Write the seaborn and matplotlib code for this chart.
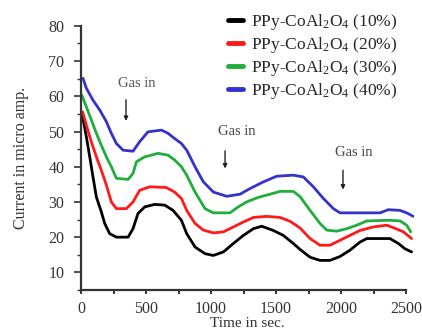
import numpy as np
import pandas as pd
import matplotlib
matplotlib.use("Agg")
import matplotlib.pyplot as plt
import seaborn as sns

# Sensor response: current (micro amp) versus time (s) for four loadings
labels = ["PPy-CoAl$_\\mathregular{2}$O$_\\mathregular{4}$ (10%)",
          "PPy-CoAl$_\\mathregular{2}$O$_\\mathregular{4}$ (20%)",
          "PPy-CoAl$_\\mathregular{2}$O$_\\mathregular{4}$ (30%)",
          "PPy-CoAl$_\\mathregular{2}$O$_\\mathregular{4}$ (40%)"]
colors = ["#000000", "#ff1a1a", "#1fae3c", "#3333cc"]

t10 = [10, 15, 41, 67, 92, 118, 156, 182, 220, 272, 362, 400, 438, 490, 567, 644,
       708, 772, 813, 877, 954, 1018, 1095, 1172, 1249, 1326, 1390, 1479, 1556, 1633,
       1685, 1762, 1838, 1915, 1992, 2069, 2146, 2198, 2377, 2441, 2492, 2543]
i10 = [54.5, 53.7, 48.5, 42.8, 37.1, 31.4, 27.2, 23.9, 21.0, 20.0, 20.0, 22.4, 26.7,
       28.6, 29.3, 29.1, 27.6, 24.8, 21.0, 17.2, 15.3, 14.8, 15.8, 18.2, 20.5, 22.4,
       23.1, 21.9, 20.5, 18.2, 16.5, 14.3, 13.4, 13.4, 14.5, 16.3, 18.6, 19.6, 19.6,
       18.2, 16.7, 15.8]

t20 = [12, 41, 79, 118, 156, 195, 233, 272, 349, 400, 451, 528, 656, 720, 772, 813,
       877, 941, 1018, 1095, 1172, 1249, 1326, 1428, 1531, 1608, 1685, 1762, 1838,
       1915, 1992, 2069, 2146, 2249, 2351, 2403, 2480, 2543]
i20 = [55.6, 51.8, 47.1, 42.8, 39.0, 34.8, 30.0, 28.1, 28.1, 30.0, 33.3, 34.3, 34.1,
       32.8, 31.0, 27.6, 23.9, 22.0, 21.2, 21.5, 22.9, 24.3, 25.6, 25.9, 25.6, 24.5,
       22.6, 19.6, 17.7, 17.7, 19.1, 20.5, 21.9, 22.9, 23.4, 22.7, 21.5, 19.6]

t30 = [5, 41, 79, 118, 156, 195, 233, 272, 362, 400, 426, 490, 592, 669, 720, 772,
       813, 877, 954, 1018, 1146, 1210, 1274, 1364, 1454, 1531, 1633, 1685, 1762, 1838,
       1890, 1967, 2044, 2121, 2198, 2377, 2454, 2505, 2536]
i30 = [60.4, 57.0, 53.3, 49.5, 46.1, 42.8, 40.0, 36.7, 36.4, 38.1, 41.4, 42.8, 43.8,
       43.3, 41.9, 40.0, 37.6, 32.8, 28.1, 26.9, 26.9, 28.6, 30.0, 31.3, 32.2, 33.0,
       33.0, 31.5, 27.6, 23.9, 22.0, 21.7, 22.4, 23.4, 24.6, 24.8, 24.6, 23.4, 21.5]

t40 = [15, 41, 92, 144, 195, 233, 272, 323, 400, 451, 515, 618, 669, 720, 772, 813,
       877, 941, 1018, 1121, 1223, 1300, 1403, 1505, 1633, 1710, 1787, 1864, 1941,
       1992, 2300, 2364, 2454, 2505, 2556]
i40 = [65.1, 62.3, 58.9, 56.1, 52.8, 49.5, 46.6, 44.7, 44.4, 47.1, 49.9, 50.4, 49.5,
       48.0, 46.6, 44.7, 40.0, 35.7, 32.8, 31.6, 32.2, 33.8, 35.7, 37.3, 37.6, 37.1,
       34.3, 31.0, 28.1, 26.9, 26.9, 27.8, 27.6, 26.9, 25.9]

gas_label = "Gas in"
gas_text_x = [285, 1054, 1954]
gas_text_y = [63.5, 50.1, 44.1]
gas_x = [346, 1108, 2015]
gas_top = [59, 44.5, 39]
gas_bottom = [53, 39.5, 33.5]

xticks = [0, 500, 1000, 1500, 2000, 2500]
yticks = [10, 20, 30, 40, 50, 60, 70, 80]

frames = []
for lab, t, i in zip(labels, [t10, t20, t30, t40], [i10, i20, i30, i40]):
    frames.append(pd.DataFrame({"time": t, "current": i, "sample": lab}))
df = pd.concat(frames, ignore_index=True)

sns.set_theme(style="white")
plt.rcParams["font.family"] = ["Liberation Serif", "DejaVu Serif"]
plt.rcParams["mathtext.fontset"] = "custom"
plt.rcParams["mathtext.rm"] = "Liberation Serif"
plt.rcParams["mathtext.it"] = "Liberation Serif:italic"

fig = plt.figure(figsize=(4.22, 3.36), dpi=100)
ax = fig.add_axes([0.192, 0.137, 0.7886, 0.786])

sns.lineplot(data=df, x="time", y="current", hue="sample", palette=colors,
             sort=False, estimator=None, linewidth=2.0, ax=ax, legend=False)
for line in ax.get_lines():
    line.set_solid_joinstyle("round")

ax.set_xlim(0, 2560)
ax.set_ylim(5, 80)
ax.set_xticks(xticks)
ax.set_xticks(np.arange(250, 2501, 500), minor=True)
ax.set_yticks(yticks)
ax.set_yticks(np.arange(5, 80, 10), minor=True)

for side in ["top", "right"]:
    ax.spines[side].set_visible(False)
for side in ["left", "bottom"]:
    ax.spines[side].set_color("#333333")
    ax.spines[side].set_linewidth(1.6)
ax.spines["bottom"].set_bounds(0, 2500)

ax.tick_params(axis="y", which="major", direction="out", length=5, width=1.2,
               color="#333333", pad=7, labelsize=11.5, labelcolor="#333333", left=True)
ax.tick_params(axis="y", which="minor", direction="out", length=3, width=1.0,
               color="#333333", left=True)
ax.tick_params(axis="x", which="both", direction="out", length=3, width=1.4,
               color="#333333", pad=5, labelsize=11.5, labelcolor="#333333", bottom=True)

ax.set_xlabel("Time in sec.", fontsize=11, color="#333333", labelpad=0)
ax.set_ylabel("Current in micro amp.", fontsize=11.5, color="#333333", labelpad=14)

for x, ytop, ybot in zip(gas_x, gas_top, gas_bottom):
    ax.annotate("", xy=(x, ybot), xytext=(x, ytop),
                arrowprops=dict(arrowstyle="-|>", color="#222222", lw=1.0,
                                mutation_scale=6, shrinkA=0, shrinkB=0))
for x, y, c in zip(gas_text_x, gas_text_y, ["#555555", "#444444", "#444444"]):
    ax.text(x, y, gas_label, fontsize=10.5, color=c, va="center", ha="left")

handles = [plt.Line2D([], [], color=c, lw=3.5) for c in colors]
fig.legend(handles, labels, loc="upper left", bbox_to_anchor=(228 / 422, 1 - 12 / 336),
           frameon=False, fontsize=12.5, handlelength=0.85, handletextpad=0.5,
           labelspacing=0.17, borderpad=0, borderaxespad=0)

fig.savefig("out.png", dpi=100, facecolor="white")
